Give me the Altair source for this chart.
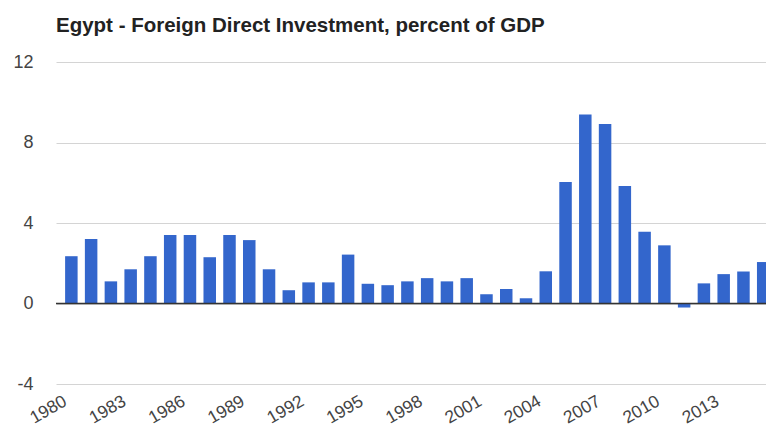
import altair as alt
import pandas as pd

years = list(range(1980, 2016))
fdi = [2.35, 3.2, 1.1, 1.7, 2.35, 3.4, 3.4, 2.3, 3.4, 3.15,
       1.7, 0.66, 1.05, 1.05, 2.43, 0.98, 0.91, 1.1, 1.26, 1.1,
       1.26, 0.46, 0.72, 0.26, 1.6, 6.04, 9.39, 8.92, 5.84, 3.56,
       2.89, -0.2, 1.0, 1.46, 1.59, 2.06]
label_years = list(range(1980, 2014, 3))
y_ticks = [-4, 0, 4, 8, 12]
title_text = "Egypt - Foreign Direct Investment, percent of GDP"

df = pd.DataFrame({"year": years, "fdi": fdi})
zero_df = pd.DataFrame({"v": [0]})

x_scale = alt.Scale(domain=[1979.476, 2014.888], nice=False, zero=False)
y_scale = alt.Scale(domain=[-4, 12], nice=False)

FONT = "Liberation Sans"

bars = alt.Chart(df).mark_bar(size=12.5, color="#3366cc", clip=True).encode(
    x=alt.X("year:Q", scale=x_scale,
            axis=alt.Axis(values=label_years, labelExpr="'' + datum.value",
                          labelAngle=-30, labelAlign="right", labelBaseline="top",
                          labelPadding=8, labelOffset=-11,
                          ticks=False, domain=False, grid=False, labelFontSize=17.5,
                          labelColor="#444444", labelFont=FONT, title=None,
                          labelOverlap=False, labelFlush=False)),
    y=alt.Y("fdi:Q", scale=y_scale,
            axis=alt.Axis(values=y_ticks, labelExpr="'' + datum.value",
                          ticks=False, domain=False, grid=True,
                          gridColor="#d4d4d4", gridWidth=1, labelFontSize=18,
                          labelPadding=23, labelColor="#444444", labelFont=FONT,
                          title=None)),
    y2=alt.datum(0),
)

rule = alt.Chart(zero_df).mark_rule(color="#333333", strokeWidth=1.3).encode(
    y=alt.Y("v:Q", scale=y_scale)
)

chart = alt.layer(bars, rule).properties(
    width=710,
    height=322,
    title=alt.TitleParams(title_text, anchor="start", frame="group", fontSize=20.5,
                          fontWeight="bold", color="#222222", font=FONT,
                          baseline="alphabetic", offset=1),
    autosize=alt.AutoSizeParams(type="none"),
    padding={"left": 48, "top": 54, "right": 0, "bottom": 44},
).configure(font=FONT, view=alt.ViewConfig(stroke=None))

chart.save("out.html", embed_options={"renderer": "svg", "actions": False})
